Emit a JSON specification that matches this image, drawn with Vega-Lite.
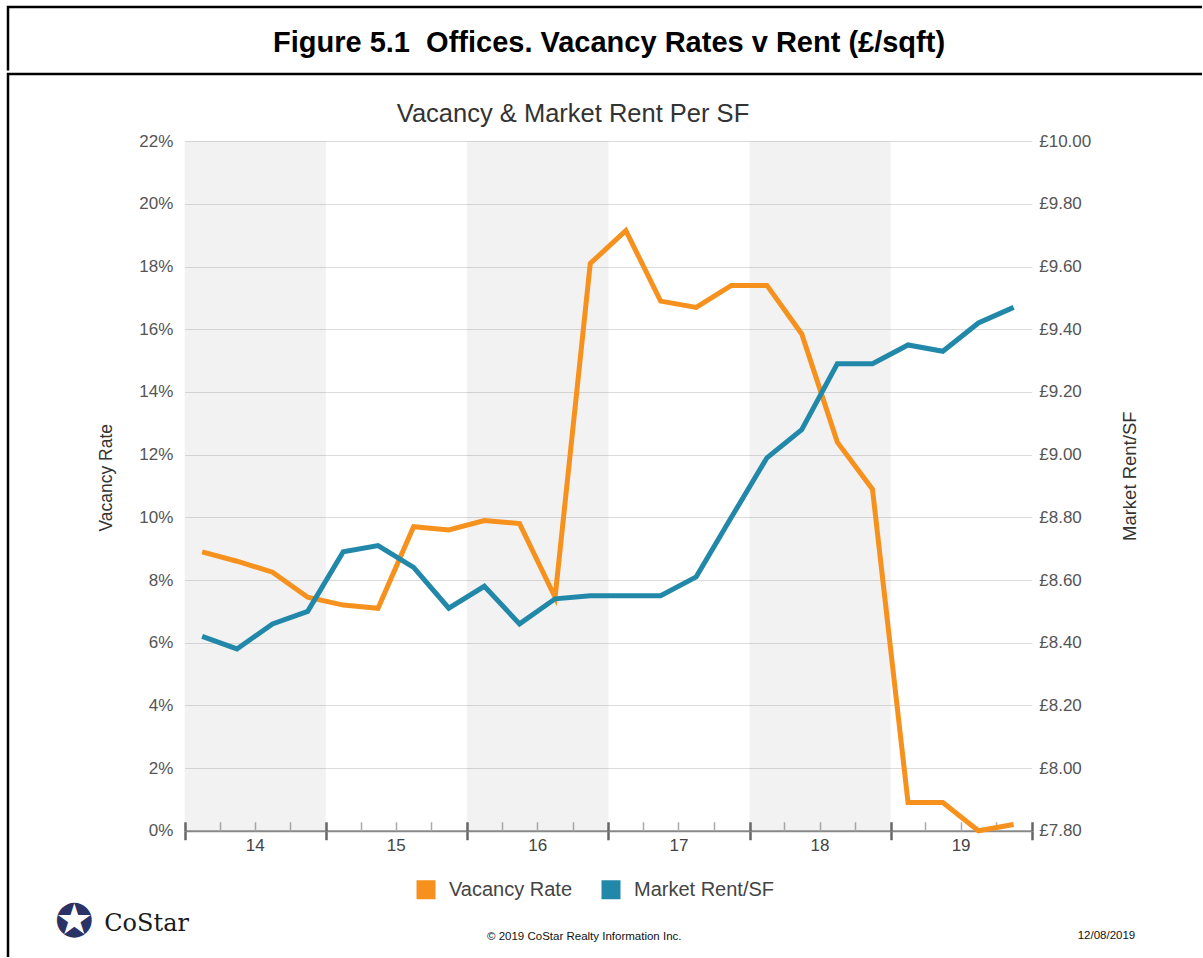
{
  "$schema": "https://vega.github.io/schema/vega-lite/v6.json",
  "padding": {"left": 6, "top": 5, "right": 0, "bottom": 0},
  "autosize": {"type": "pad"},
  "config": {
    "view": {"stroke": null},
    "font": "Liberation Sans",
    "concat": {"spacing": 0},
    "axis": {"labelFont": "Liberation Sans", "titleFont": "Liberation Sans"},
    "legend": {"labelFont": "Liberation Sans"}
  },
  "title": {"text": "12/08/2019", "orient": "bottom", "anchor": "end", "offset": -22, "baseline": "middle", "dx": -68, "fontSize": 11.5, "fontWeight": "normal", "color": "#111", "font": "Liberation Sans"},
  "datasets": {
    "heading": [{"label": "Figure 5.1\u00a0 Offices. Vacancy Rates v Rent (£/sqft)"}],
    "bands": [
      {"start": "2014-01-01", "end": "2015-01-01"},
      {"start": "2016-01-01", "end": "2017-01-01"},
      {"start": "2018-01-01", "end": "2019-01-01"}
    ],
    "quarters": [
      {"date": "2014-02-15", "vacancy": 8.9, "rent": 8.42},
      {"date": "2014-05-16", "vacancy": 8.6, "rent": 8.38},
      {"date": "2014-08-16", "vacancy": 8.25, "rent": 8.46},
      {"date": "2014-11-15", "vacancy": 7.45, "rent": 8.5},
      {"date": "2015-02-15", "vacancy": 7.2, "rent": 8.69},
      {"date": "2015-05-16", "vacancy": 7.1, "rent": 8.71},
      {"date": "2015-08-16", "vacancy": 9.7, "rent": 8.64},
      {"date": "2015-11-15", "vacancy": 9.6, "rent": 8.51},
      {"date": "2016-02-15", "vacancy": 9.9, "rent": 8.58},
      {"date": "2016-05-16", "vacancy": 9.8, "rent": 8.46},
      {"date": "2016-08-16", "vacancy": 7.45, "rent": 8.54},
      {"date": "2016-11-15", "vacancy": 18.1, "rent": 8.55},
      {"date": "2017-02-15", "vacancy": 19.15, "rent": 8.55},
      {"date": "2017-05-16", "vacancy": 16.9, "rent": 8.55},
      {"date": "2017-08-16", "vacancy": 16.7, "rent": 8.61},
      {"date": "2017-11-15", "vacancy": 17.4, "rent": 8.8},
      {"date": "2018-02-15", "vacancy": 17.4, "rent": 8.99},
      {"date": "2018-05-16", "vacancy": 15.85, "rent": 9.08},
      {"date": "2018-08-16", "vacancy": 12.4, "rent": 9.29},
      {"date": "2018-11-15", "vacancy": 10.9, "rent": 9.29},
      {"date": "2019-02-15", "vacancy": 0.9, "rent": 9.35},
      {"date": "2019-05-16", "vacancy": 0.9, "rent": 9.33},
      {"date": "2019-08-16", "vacancy": 0.0, "rent": 9.42},
      {"date": "2019-11-15", "vacancy": 0.2, "rent": 9.47}
    ]
  },
  "vconcat": [
    {
      "width": 1194,
      "height": 63.5,
      "view": {"stroke": "#000", "strokeWidth": 2.5, "strokeDash": [1194, 1257.5, 80]},
      "data": {"name": "heading"},
      "mark": {"type": "text", "font": "Liberation Sans", "fontWeight": "bold", "fontSize": 29, "fill": "#000", "baseline": "middle", "dx": 4, "dy": 4},
      "encoding": {"text": {"field": "label"}}
    },
    {
      "width": 1194,
      "height": 883,
      "view": {"stroke": "#000", "strokeWidth": 2.5, "strokeDash": [1194, 2077, 900]},
      "title": {"text": "Vacancy & Market Rent Per SF", "fontSize": 25.5, "fontWeight": "normal", "color": "#333", "font": "Liberation Sans", "anchor": "middle", "offset": -65, "baseline": "middle", "dx": -32},
      "layer": [
        {
          "data": {"name": "bands"},
          "mark": {"type": "rect", "fill": "#808080", "fillOpacity": 0.1},
          "encoding": {
            "x": {
              "field": "start", "type": "temporal",
              "scale": {"type": "utc", "domain": [{"year": 2014, "month": 1, "date": 1, "utc": true}, {"year": 2020, "month": 1, "date": 1, "utc": true}], "range": [176.75, 1023.75], "nice": false},
              "axis": {"orient": "bottom", "offset": -126.25, "domain": false, "labels": false, "grid": false, "ticks": true, "tickCount": {"interval": "year", "step": 1}, "tickSize": 9, "tickColor": "#666", "tickWidth": 2.5, "title": "✪", "titleX": 65.75, "titleY": 92, "titleAlign": "center", "titleBaseline": "middle", "titleFontSize": 46, "titleColor": "#2b3266", "titleFontWeight": "normal", "titleFont": "DejaVu Sans", "titleAngle": 0}
            },
            "x2": {"field": "end"},
            "y": {"datum": 0, "type": "quantitative", "scale": {"domain": [0, 22], "range": [756.75, 67.25], "nice": false, "zero": false}, "axis": null},
            "y2": {"datum": 22}
          }
        },
        {
          "data": {"name": "quarters"},
          "mark": {"type": "line", "strokeWidth": 5},
          "encoding": {
            "x": {
              "field": "date", "type": "temporal",
              "scale": {"type": "utc", "domain": [{"year": 2014, "month": 1, "date": 1, "utc": true}, {"year": 2020, "month": 1, "date": 1, "utc": true}], "range": [176.75, 1023.75], "nice": false},
              "axis": {"orient": "bottom", "offset": -126.25, "domain": true, "domainColor": "#888", "domainWidth": 2, "ticks": false, "grid": false, "labels": true, "tickCount": {"interval": "month", "step": 3}, "labelExpr": "utcmonth(datum.value) == 6 ? utcFormat(datum.value, '%y') : ''", "labelFontSize": 17, "labelColor": "#444", "labelPadding": 7, "labelFlush": false, "labelOverlap": false, "labelBound": false, "title": "© 2019 CoStar Realty Information Inc.", "titleX": 575.75, "titleY": 106, "titleAlign": "center", "titleBaseline": "middle", "titleFontSize": 11.5, "titleFontWeight": "normal", "titleColor": "#111"}
            },
            "y": {
              "field": "vacancy", "type": "quantitative",
              "scale": {"domain": [0, 22], "range": [756.75, 67.25], "nice": false, "zero": false},
              "axis": {"orient": "left", "offset": -176.75, "values": [0, 2, 4, 6, 8, 10, 12, 14, 16, 18, 20, 22], "labelExpr": "datum.value + '%'", "domain": false, "ticks": false, "grid": true, "gridColor": "#dcdcdc", "gridWidth": 1, "labelPadding": 12, "labelFontSize": 17, "labelColor": "#555", "title": "Vacancy Rate", "titleX": -78.5, "titleY": 403.25, "titleAngle": 270, "titleAlign": "center", "titleBaseline": "middle", "titleFontSize": 17.5, "titleFontWeight": "normal", "titleColor": "#333"}
            },
            "color": {
              "datum": "Vacancy Rate",
              "scale": {"domain": ["Vacancy Rate", "Market Rent/SF"], "range": ["#f7911e", "#2288aa"]},
              "legend": {"orient": "none", "legendX": 408, "legendY": 872.75, "direction": "horizontal", "title": null, "symbolType": "square", "symbolSize": 361, "labelFontSize": 20, "labelColor": "#444", "labelOffset": 13, "columnPadding": 28, "symbolStrokeWidth": 0, "encode": {"symbols": {"update": {"fill": {"scale": "color", "field": "value"}, "fillOpacity": {"value": 1}}}}}
            }
          }
        },
        {
          "data": {"name": "quarters"},
          "mark": {"type": "line", "strokeWidth": 5},
          "encoding": {
            "x": {
              "field": "date", "type": "temporal",
              "scale": {"type": "utc", "domain": [{"year": 2014, "month": 1, "date": 1, "utc": true}, {"year": 2020, "month": 1, "date": 1, "utc": true}], "range": [176.75, 1023.75], "nice": false},
              "axis": {"orient": "bottom", "offset": -126.25, "domain": false, "labels": false, "grid": false, "ticks": true, "tickCount": {"interval": "month", "step": 3}, "tickSize": -9, "tickColor": {"condition": {"test": "utcmonth(datum.value) == 0", "value": "#666"}, "value": "#aaa"}, "tickWidth": {"condition": {"test": "utcmonth(datum.value) == 0", "value": 2.5}, "value": 1.5}, "title": "CoStar", "titleX": 95.75, "titleY": 93, "titleAlign": "left", "titleBaseline": "middle", "titleFont": "DejaVu Serif", "titleFontSize": 24, "titleFontWeight": "normal", "titleColor": "#1a1a1a", "titleAngle": 0}
            },
            "y": {
              "field": "rent", "type": "quantitative",
              "scale": {"domain": [7.8, 10], "range": [756.75, 67.25], "nice": false, "zero": false},
              "axis": {"orient": "right", "offset": -170.25, "values": [7.8, 8, 8.2, 8.4, 8.6, 8.8, 9, 9.2, 9.4, 9.6, 9.8, 10], "labelExpr": "'£' + format(datum.value, '.2f')", "domain": false, "ticks": false, "grid": false, "labelPadding": 7, "labelFontSize": 17, "labelColor": "#555", "title": "Market Rent/SF", "titleX": 98, "titleY": 401.75, "titleAngle": 270, "titleAlign": "center", "titleBaseline": "middle", "titleFontSize": 18.5, "titleFontWeight": "normal", "titleColor": "#333"}
            },
            "color": {"datum": "Market Rent/SF"}
          }
        }
      ],
      "resolve": {"scale": {"y": "independent"}, "axis": {"x": "independent"}}
    }
  ]
}
